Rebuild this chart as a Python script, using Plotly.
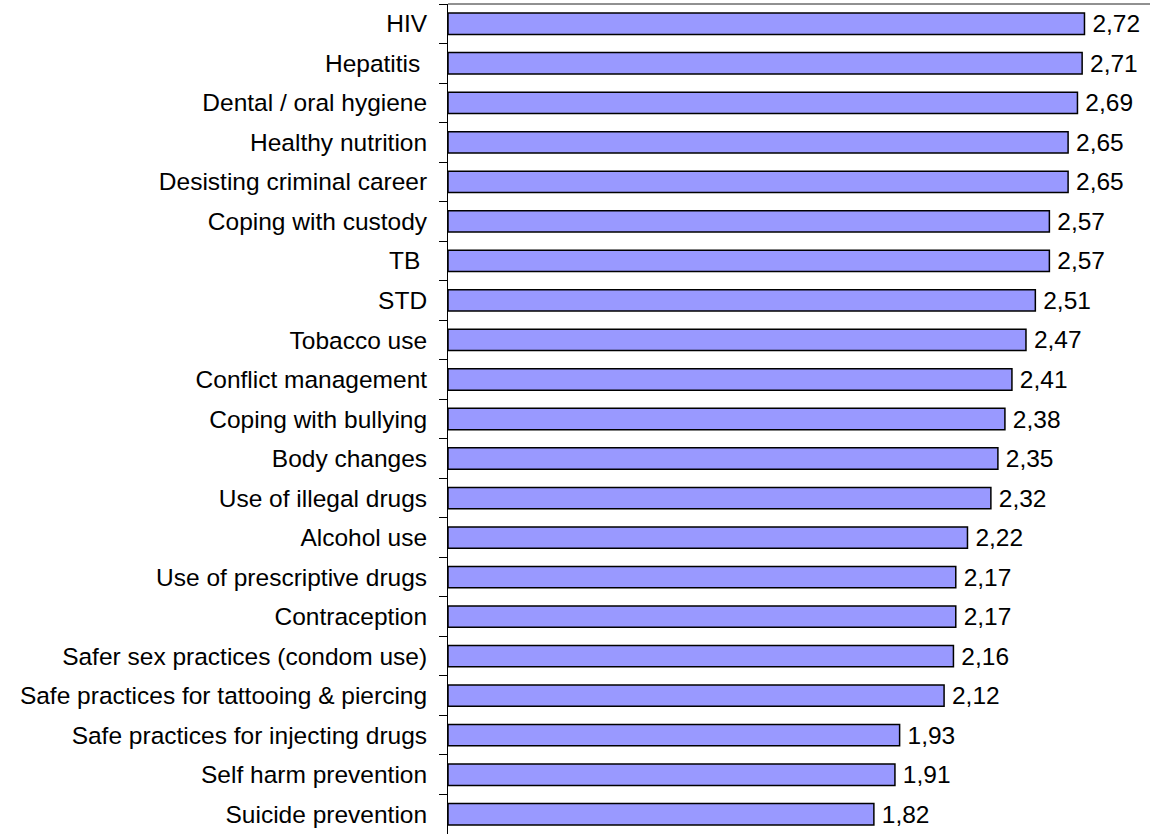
import plotly.graph_objects as go

# Topics and mean scores, listed top to bottom
topics = [
    "HIV", "Hepatitis ", "Dental / oral hygiene", "Healthy nutrition",
    "Desisting criminal career", "Coping with custody", "TB ", "STD",
    "Tobacco use", "Conflict management", "Coping with bullying",
    "Body changes", "Use of illegal drugs", "Alcohol use",
    "Use of prescriptive drugs", "Contraception",
    "Safer sex practices (condom use)",
    "Safe practices for tattooing & piercing",
    "Safe practices for injecting drugs", "Self harm prevention",
    "Suicide prevention",
]
scores = [2.72, 2.71, 2.69, 2.65, 2.65, 2.57, 2.57, 2.51, 2.47, 2.41, 2.38,
          2.35, 2.32, 2.22, 2.17, 2.17, 2.16, 2.12, 1.93, 1.91, 1.82]

FONT = "Liberation Sans, Arial, sans-serif"
SIZE = 24.5

fig = go.Figure(go.Bar(
    x=scores,
    y=topics,
    orientation="h",
    width=0.54,
    marker=dict(color="#9999FF", line=dict(color="black", width=1.5)),
    texttemplate="\u2009%{x:.2f}",
    textposition="outside",
    constraintext="none",
    cliponaxis=False,
    textfont=dict(family=FONT, size=SIZE, color="black"),
    outsidetextfont=dict(family=FONT, size=SIZE, color="black"),
))

fig.update_layout(
    width=1150, height=834,
    margin=dict(l=448, r=0, t=4, b=0),
    paper_bgcolor="white", plot_bgcolor="white",
    separators=", ",
    showlegend=False,
    font=dict(family=FONT, size=SIZE, color="black"),
    xaxis=dict(range=[0, 3], visible=False, fixedrange=True),
    yaxis=dict(
        type="category",
        autorange="reversed",
        tickson="boundaries",
        ticks="outside", ticklen=8, tickcolor="black", tickwidth=1,
        ticklabelstandoff=15,
        showline=True, linecolor="black", linewidth=1,
        showgrid=False,
        tickfont=dict(family=FONT, size=SIZE, color="black"),
    ),
    shapes=[dict(type="line", xref="paper", yref="paper",
                 x0=0, x1=1, y0=1, y1=1,
                 line=dict(color="#222222", width=1))],
)

fig.write_html("out.html")
